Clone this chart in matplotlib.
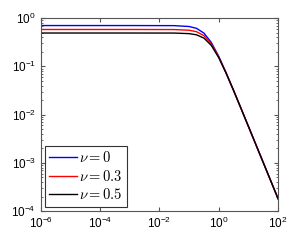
import matplotlib
matplotlib.use("Agg")
import matplotlib.pyplot as plt
from matplotlib.font_manager import FontProperties
from matplotlib.ticker import LogLocator, NullLocator

plt.rcParams["font.family"] = "Liberation Sans"

# values (log-log)
x = [1e-6, 1e-3, 0.0316, 0.1, 0.178, 0.316, 0.562, 1.0, 1.778, 3.162, 5.62, 10.0, 100.0]
y_nu0 = [0.70, 0.70, 0.697, 0.669, 0.613, 0.489, 0.312, 0.1605, 0.073, 0.0316, 0.01344, 0.00568, 0.00018]
y_nu03 = [0.58, 0.58, 0.578, 0.560, 0.522, 0.433, 0.291, 0.156, 0.0722, 0.0315, 0.01343, 0.00568, 0.00018]
y_nu05 = [0.49, 0.49, 0.489, 0.476, 0.450, 0.385, 0.271, 0.151, 0.0715, 0.0315, 0.01342, 0.00568, 0.00018]
labels = [r"$\nu = 0$", r"$\nu = 0.3$", r"$\nu = 0.5$"]
xticks = [1e-6, 1e-4, 1e-2, 1e0, 1e2]
yticks = [1e-4, 1e-3, 1e-2, 1e-1, 1e0]

fig = plt.figure(figsize=(3.08, 2.41), dpi=100)
ax = fig.add_axes([0.132, 0.124, 0.771, 0.801])

ax.loglog(x, y_nu0, color="#0000ff", lw=1.0, label=labels[0])
ax.loglog(x, y_nu03, color="#ff0000", lw=1.0, label=labels[1])
ax.loglog(x, y_nu05, color="black", lw=1.0, label=labels[2])

ax.set_xlim(1e-6, 1e2)
ax.set_ylim(1e-4, 1e0)
ax.set_xticks(xticks)
ax.xaxis.set_minor_locator(NullLocator())
ax.set_yticks(yticks)
ax.yaxis.set_minor_locator(LogLocator(base=10.0, subs=range(2, 10), numticks=20))
ax.tick_params(which="both", direction="in", top=True, right=True, labelsize=8.5,
               colors="#555555", labelcolor="black")
ax.tick_params(which="major", length=3)
ax.tick_params(which="minor", length=1.5)
for s in ax.spines.values():
    s.set_color("#555555")
    s.set_linewidth(0.8)

leg_font = FontProperties(size=10.5, math_fontfamily="cm")
leg = ax.legend(loc="lower left", prop=leg_font, fancybox=False, framealpha=1,
                edgecolor="#333333", handlelength=1.9, handletextpad=0.1,
                borderpad=0.3, labelspacing=0.25, borderaxespad=0.3)
leg.get_frame().set_linewidth(0.8)

fig.savefig("out.png", dpi=100)
